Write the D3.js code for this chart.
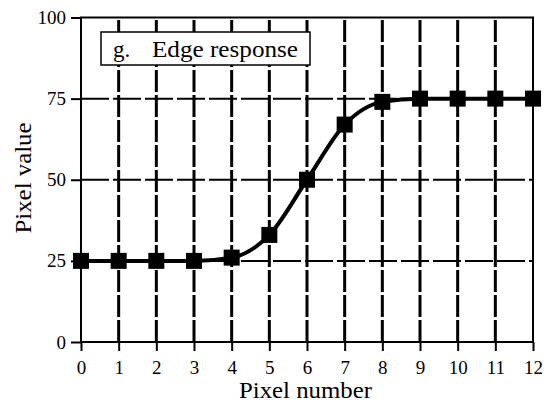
<!DOCTYPE html>
<html>
<head>
<meta charset="utf-8">
<script src="https://cdn.jsdelivr.net/npm/d3@7"></script>
<style>
  html, body { margin: 0; padding: 0; background: #fff; }
  svg { display: block; font-family: "Liberation Serif", "Times New Roman", serif; }
</style>
</head>
<body>
<svg id="chart" width="549" height="406"></svg>
<script>
// Edge response: pixel values across a blurred edge
const pixelNumbers = [0, 1, 2, 3, 4, 5, 6, 7, 8, 9, 10, 11, 12];
const pixelValues  = [25, 25, 25, 25, 26, 33, 50, 67, 74, 75, 75, 75, 75];
const yTicks = [0, 25, 50, 75, 100];
const xTicks = [0, 1, 2, 3, 4, 5, 6, 7, 8, 9, 10, 11, 12];
const panelLetter = "g.";
const panelTitle = "Edge response";
const xTitle = "Pixel number";
const yTitle = "Pixel value";

const svg = d3.select("#chart");
const m = { left: 81, right: 16, top: 17.5, bottom: 64 };
const W = 549, H = 406;

const x = d3.scaleLinear().domain([0, 12]).range([m.left, W - m.right]);
const y = d3.scaleLinear().domain([0, 100]).range([H - m.bottom, m.top]);

// grid lines (dashed)
const grid = svg.append("g");
grid.selectAll("line.vx")
  .data(xTicks.filter(d => d > 0 && d < 12))
  .join("line")
  .attr("x1", d => x(d)).attr("x2", d => x(d))
  .attr("y1", y(0)).attr("y2", y(100))
  .attr("stroke", "#000").attr("stroke-width", 3)
  .attr("stroke-dasharray", "22,3");
grid.selectAll("line.hy")
  .data(yTicks.filter(d => d > 0 && d < 100))
  .join("line")
  .attr("x1", x(0)).attr("x2", x(12))
  .attr("y1", d => y(d)).attr("y2", d => y(d))
  .attr("stroke", "#000").attr("stroke-width", 2)
  .attr("stroke-dasharray", "28,4");

// frame
svg.append("rect")
  .attr("x", x(0)).attr("y", y(100))
  .attr("width", x(12) - x(0)).attr("height", y(0) - y(100))
  .attr("fill", "none").attr("stroke", "#000").attr("stroke-width", 2);

// axes
const xAxis = d3.axisBottom(x).tickValues(xTicks).tickSize(9).tickPadding(10).tickFormat(d3.format("d"));
const yAxis = d3.axisLeft(y).tickValues(yTicks).tickSize(10).tickPadding(5).tickFormat(d3.format("d"));
const gx = svg.append("g").attr("transform", `translate(0,${y(0)})`).call(xAxis);
const gy = svg.append("g").attr("transform", `translate(${x(0)},0)`).call(yAxis);
[gx, gy].forEach(g => {
  g.select(".domain").remove();
  g.selectAll(".tick line").attr("stroke", "#000").attr("stroke-width", 2);
  g.selectAll(".tick text")
    .attr("fill", "#000")
    .style("font-family", '"Liberation Serif", serif')
    .style("font-size", "19px");
});

// edge response curve
const line = d3.line()
  .x((d, i) => x(pixelNumbers[i]))
  .y(d => y(d))
  .curve(d3.curveMonotoneX);
svg.append("path")
  .datum(pixelValues)
  .attr("d", line)
  .attr("fill", "none")
  .attr("stroke", "#000")
  .attr("stroke-width", 4);

// markers
const s = 16;
svg.selectAll("rect.pt")
  .data(pixelValues)
  .join("rect")
  .attr("x", (d, i) => x(pixelNumbers[i]) - s / 2)
  .attr("y", d => y(d) - s / 2)
  .attr("width", s).attr("height", s)
  .attr("fill", "#000");

// panel label box
svg.append("rect")
  .attr("x", 101).attr("y", 32)
  .attr("width", 209).attr("height", 33)
  .attr("fill", "#fff").attr("stroke", "#000").attr("stroke-width", 1.5);
svg.append("text")
  .attr("x", 113).attr("y", 57)
  .style("font-size", "23px")
  .text(panelLetter);
svg.append("text")
  .attr("x", 152).attr("y", 57)
  .style("font-size", "23px")
  .attr("textLength", 146)
  .attr("lengthAdjust", "spacingAndGlyphs")
  .text(panelTitle);

// axis titles
svg.append("text")
  .attr("x", 305.5).attr("y", 398)
  .attr("text-anchor", "middle")
  .style("font-size", "23px")
  .attr("textLength", 133)
  .attr("lengthAdjust", "spacingAndGlyphs")
  .text(xTitle);
svg.append("text")
  .attr("transform", `translate(31,178) rotate(-90)`)
  .attr("text-anchor", "middle")
  .style("font-size", "23px")
  .attr("textLength", 111)
  .attr("lengthAdjust", "spacingAndGlyphs")
  .text(yTitle);
</script>
</body>
</html>
